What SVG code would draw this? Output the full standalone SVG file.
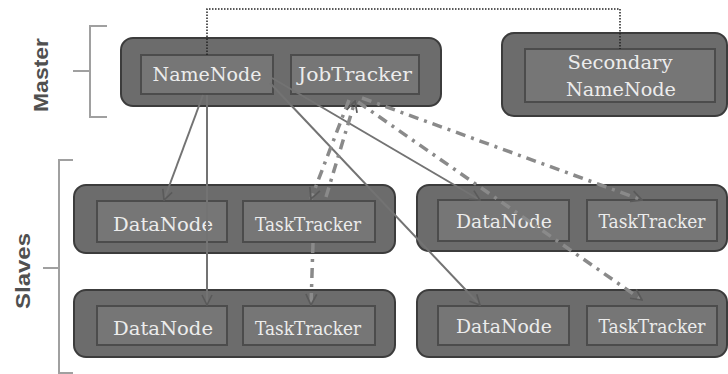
<svg xmlns="http://www.w3.org/2000/svg" width="728" height="374" viewBox="0 0 728 374">
<style>
.outer{fill:#6c6c6c;stroke:#3c3c3c;stroke-width:2}
.inner{fill:#767676;stroke:#4c4c4c;stroke-width:2}
.lbl{font-family:"DejaVu Serif",serif;font-size:18px;fill:#ececec;text-anchor:middle}
.side{font-family:"Liberation Sans",Arial,sans-serif;font-weight:bold;font-size:21px;fill:#505050;text-anchor:middle}
.brk{fill:none;stroke:#a0a0a0;stroke-width:2}
.solid{fill:none;stroke:#737373;stroke-width:2;marker-end:url(#arr)}
.dd{fill:none;stroke:#8a8a8a;stroke-width:3.5;stroke-dasharray:10 6 3 6;marker-end:url(#arr2)}
.dot{fill:none;stroke:#222;stroke-width:1.5;stroke-dasharray:1.5 1.5}
</style>
<defs>
<marker id="arr" viewBox="0 0 12 12" refX="11" refY="6" markerWidth="12" markerHeight="12" markerUnits="userSpaceOnUse" orient="auto">
<path d="M1,1 L11,6 L1,11" fill="none" stroke="#5a5a5a" stroke-width="1.6"/>
</marker>
<marker id="arr2" viewBox="0 0 12 12" refX="11" refY="6" markerWidth="13" markerHeight="13" markerUnits="userSpaceOnUse" orient="auto">
<path d="M1,1 L11,6 L1,11" fill="none" stroke="#5a5a5a" stroke-width="1.6"/>
</marker>
</defs>
<rect width="728" height="374" fill="#ffffff"/>

<g id="master-bracket">
<path class="brk" d="M107,26 H90 V117 H107 M73,71 H90"/>
<text class="side" transform="translate(48,75) rotate(-90)" textLength="74" lengthAdjust="spacingAndGlyphs">Master</text>
</g>
<g id="slaves-bracket">
<path class="brk" d="M73,160 H59 V373 H73 M43,268 H59"/>
<text class="side" transform="translate(30,271) rotate(-90)" textLength="76" lengthAdjust="spacingAndGlyphs">Slaves</text>
</g>

<g id="master">
<rect class="outer" x="121" y="38" width="320" height="68" rx="12"/>
<g id="namenode">
<rect class="inner" x="141" y="55" width="132" height="39"/>
<text class="lbl" x="207" y="81" textLength="109" lengthAdjust="spacingAndGlyphs">NameNode</text>
</g>
<g id="jobtracker">
<rect class="inner" x="291" y="55" width="128" height="39"/>
<text class="lbl" x="355" y="81" textLength="114" lengthAdjust="spacingAndGlyphs">JobTracker</text>
</g>
</g>

<g id="secondary">
<rect class="outer" x="502" y="33" width="225" height="83" rx="12"/>
<rect class="inner" x="525" y="49" width="190" height="53"/>
<text class="lbl" x="620" y="69" textLength="105" lengthAdjust="spacingAndGlyphs">Secondary</text>
<text class="lbl" x="621" y="96" textLength="110" lengthAdjust="spacingAndGlyphs">NameNode</text>
</g>

<g id="slave1">
<rect class="outer" x="74" y="185" width="321" height="68" rx="12"/>
<rect class="inner" x="97" y="201" width="130" height="41"/>
<text class="lbl" x="163" y="231" textLength="100" lengthAdjust="spacingAndGlyphs">DataNode</text>
<rect class="inner" x="243" y="201" width="132" height="41"/>
<text class="lbl" x="308" y="231" textLength="106" lengthAdjust="spacingAndGlyphs">TaskTracker</text>
</g>
<g id="slave2">
<rect class="outer" x="74" y="290" width="321" height="67" rx="12"/>
<rect class="inner" x="97" y="306" width="130" height="39"/>
<text class="lbl" x="163" y="335" textLength="100" lengthAdjust="spacingAndGlyphs">DataNode</text>
<rect class="inner" x="243" y="306" width="132" height="39"/>
<text class="lbl" x="308" y="335" textLength="106" lengthAdjust="spacingAndGlyphs">TaskTracker</text>
</g>
<g id="slave3">
<rect class="outer" x="417" y="185" width="310" height="66" rx="12"/>
<rect class="inner" x="438" y="200" width="131" height="41"/>
<text class="lbl" x="504" y="228" textLength="96" lengthAdjust="spacingAndGlyphs">DataNode</text>
<rect class="inner" x="587" y="200" width="130" height="41"/>
<text class="lbl" x="652" y="228" textLength="107" lengthAdjust="spacingAndGlyphs">TaskTracker</text>
</g>
<g id="slave4">
<rect class="outer" x="417" y="290" width="310" height="67" rx="12"/>
<rect class="inner" x="438" y="306" width="131" height="39"/>
<text class="lbl" x="504" y="333" textLength="96" lengthAdjust="spacingAndGlyphs">DataNode</text>
<rect class="inner" x="587" y="306" width="130" height="39"/>
<text class="lbl" x="652" y="333" textLength="107" lengthAdjust="spacingAndGlyphs">TaskTracker</text>
</g>

<g id="connectors">
<path class="dot" d="M207,55 V9 H620 V49"/>
<path class="solid" d="M203,95 L164,200"/>
<path class="solid" d="M207,95 L207,305"/>
<path class="solid" d="M272,78 L480,200"/>
<path class="solid" d="M270,83 L480,305"/>
<path class="dd" d="M349,100 L311,199"/>
<path class="dd" d="M326,197 L355,101"/>
<path class="dd" d="M362,98 L642,200"/>
<path class="dd" d="M358,102 L642,300"/>
<path class="dd" d="M313,243 L311,305"/>
</g>
</svg>
